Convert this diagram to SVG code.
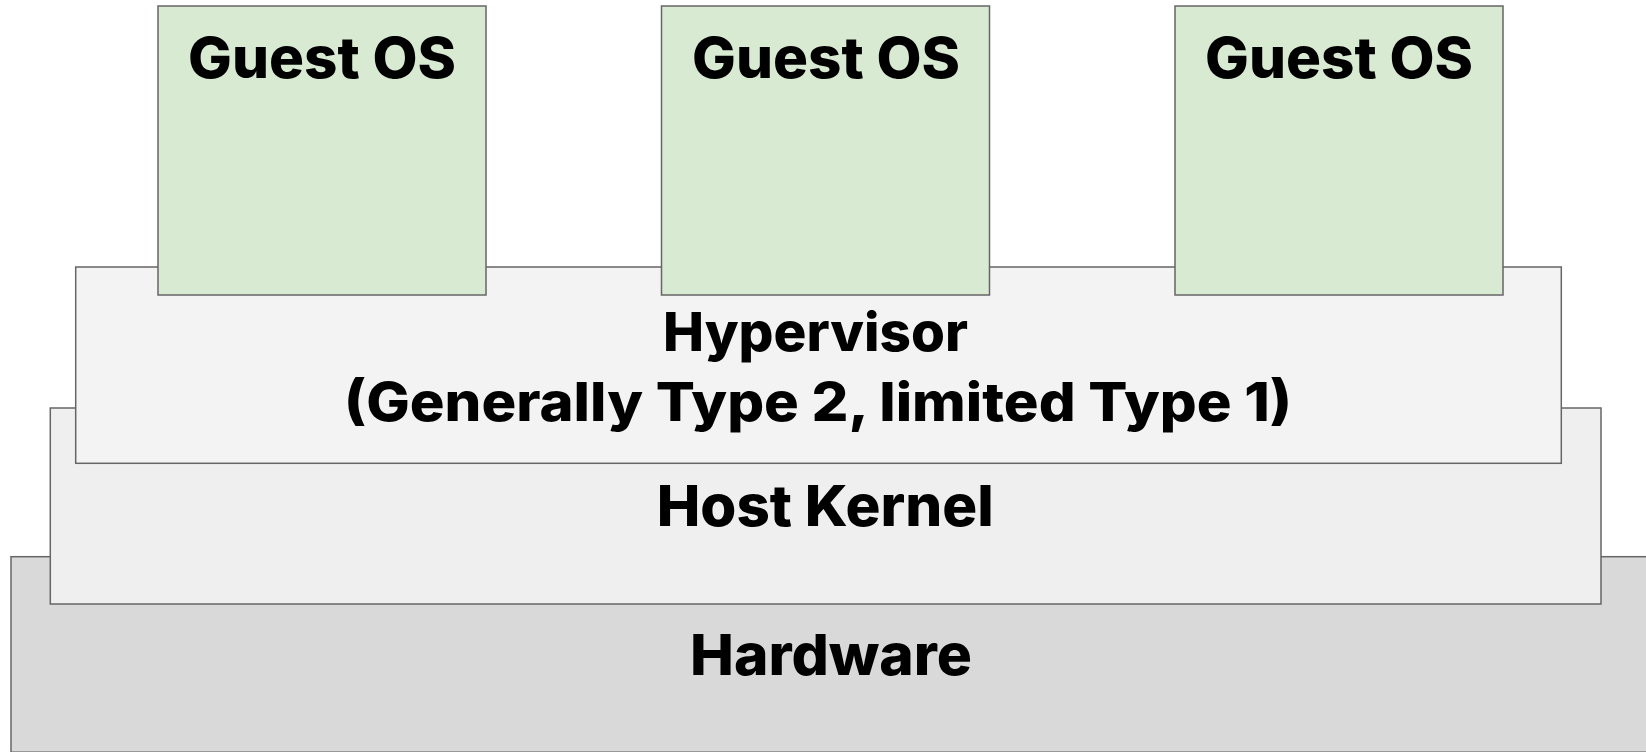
<svg xmlns="http://www.w3.org/2000/svg" width="1646" height="752" viewBox="0 0 1646 752">
  <style>
    .box { stroke: #666666; stroke-width: 1.5; }
    .hw { fill: #d9d9d9; }
    .kernel { fill: #efefef; }
    .hyper { fill: #f3f3f3; }
    .guest { fill: #d9ead3; }
    .lbl { font-family: Inter, "Open Sans", "Liberation Sans", sans-serif; font-weight: 800; fill: #000000; }
    .big { font-size: 57px; }
    .mid { font-size: 54px; }
  </style>
  <rect width="1646" height="752" fill="#ffffff"/>

  <!-- layered stack, bottom to top -->
  <g id="hardware">
    <rect class="box hw" x="11" y="556.7" width="1680" height="195.5"/>
    <text class="lbl big" x="690" y="675" textLength="282" lengthAdjust="spacingAndGlyphs">Hardware</text>
  </g>

  <g id="host-kernel">
    <rect class="box kernel" x="50.3" y="408" width="1550.7" height="196"/>
    <text class="lbl big" x="656.7" y="525.5" textLength="337" lengthAdjust="spacingAndGlyphs">Host Kernel</text>
  </g>

  <g id="hypervisor">
    <rect class="box hyper" x="75.7" y="267" width="1485.6" height="196.3"/>
    <text class="lbl mid" x="663" y="351" textLength="305" lengthAdjust="spacingAndGlyphs">Hypervisor</text>
    <text class="lbl mid" x="344" y="421" textLength="948" lengthAdjust="spacingAndGlyphs">(Generally Type 2, limited Type 1)</text>
  </g>

  <g id="guest-os-1">
    <rect class="box guest" x="158" y="6" width="328" height="289"/>
    <text class="lbl big" x="188" y="78" textLength="268" lengthAdjust="spacingAndGlyphs">Guest OS</text>
  </g>

  <g id="guest-os-2">
    <rect class="box guest" x="661.5" y="6" width="328" height="289"/>
    <text class="lbl big" x="692" y="78" textLength="268" lengthAdjust="spacingAndGlyphs">Guest OS</text>
  </g>

  <g id="guest-os-3">
    <rect class="box guest" x="1175" y="6" width="328" height="289"/>
    <text class="lbl big" x="1205" y="78" textLength="268" lengthAdjust="spacingAndGlyphs">Guest OS</text>
  </g>

  <g id="connectors"></g>
</svg>
